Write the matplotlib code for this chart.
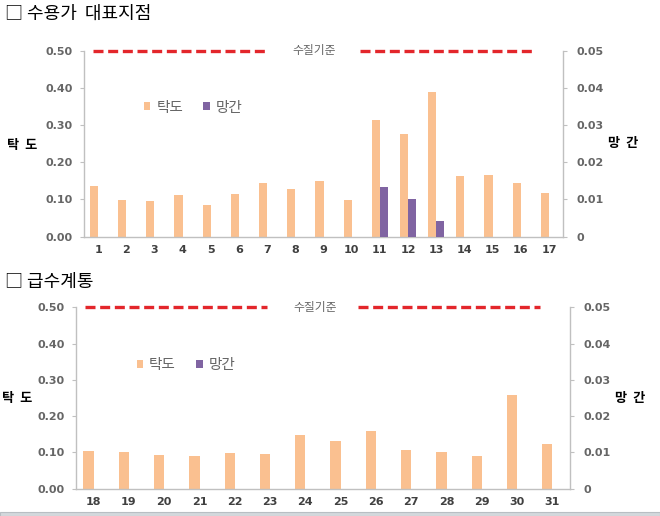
import matplotlib
matplotlib.use("Agg")
import matplotlib.pyplot as plt
from matplotlib.patches import Rectangle
import numpy as np

plt.rcParams['font.family'] = ['Noto Sans CJK KR', 'DejaVu Sans']

# data
top_sites = [str(i) for i in range(1, 18)]
top_turb = [0.136, 0.098, 0.097, 0.113, 0.084, 0.116, 0.145, 0.128, 0.150,
            0.099, 0.313, 0.277, 0.388, 0.164, 0.166, 0.144, 0.118]
top_mn = [0, 0, 0, 0, 0, 0, 0, 0, 0, 0, 0.0134, 0.0100, 0.0042, 0, 0, 0, 0]

bot_sites = [str(i) for i in range(18, 32)]
bot_turb = [0.105, 0.102, 0.094, 0.090, 0.099, 0.097, 0.148, 0.132, 0.160,
            0.107, 0.101, 0.090, 0.259, 0.124]
bot_mn = [0] * 14

standard = 0.5
left_ticks = [0.0, 0.1, 0.2, 0.3, 0.4, 0.5]
right_ticks = [0, 0.01, 0.02, 0.03, 0.04, 0.05]

ORANGE = '#FAC090'
PURPLE = '#8064A2'
GRID = '#C0C0C0'
TXT = '#666666'
RED = '#E3262B'

fig = plt.figure(figsize=(6.6, 5.16), dpi=100)


def panel(rect, sites, turb, mn, gap, leg_xy, txt_x):
    ax = fig.add_axes(rect)
    ax2 = ax.twinx()
    x = np.arange(len(sites))
    w = 0.29
    ax.bar(x - w / 2, turb, w, color=ORANGE, label='탁도', zorder=2)
    ax2.bar(x + w / 2, mn, w, color=PURPLE, label='망간', zorder=2)
    ax.set_xlim(-0.5, len(sites) - 0.5)
    ax.set_ylim(0, 0.5)
    ax2.set_ylim(0, 0.05)
    ax.set_yticks(left_ticks)
    ax.set_yticklabels(['%.2f' % v for v in left_ticks])
    ax2.set_yticks(right_ticks)
    ax2.set_yticklabels(['0' if v == 0 else '%.2f' % v for v in right_ticks])
    ax.set_xticks(x)
    ax.set_xticklabels(sites)
    for a in (ax, ax2):
        a.spines['top'].set_visible(False)
        for s in ('left', 'right', 'bottom'):
            a.spines[s].set_color(GRID)
            a.spines[s].set_linewidth(1.0)
    ax.spines['right'].set_visible(False)
    ax2.spines['left'].set_visible(False)
    ax2.spines['bottom'].set_visible(False)
    ax.tick_params(axis='x', length=0, pad=6, labelsize=8, labelcolor='#404040')
    ax.tick_params(axis='y', length=3, color=GRID, pad=5, labelsize=8, labelcolor=TXT)
    ax2.tick_params(axis='y', length=3, color=GRID, pad=7, labelsize=8, labelcolor=TXT)
    for lab in ax.get_xticklabels() + ax.get_yticklabels() + ax2.get_yticklabels():
        lab.set_family('DejaVu Sans')
        lab.set_fontweight('bold')

    # water quality standard line with label in its gap
    ax.axhline(standard, xmin=gap[0], xmax=gap[1], color=RED, lw=2.4,
               ls=(0, (3, 1.4)), clip_on=False, zorder=3)
    ax.axhline(standard, xmin=gap[2], xmax=gap[3], color=RED, lw=2.4,
               ls=(0, (3, 1.4)), clip_on=False, zorder=3)
    ax.text(txt_x, standard, '수질기준', transform=ax.get_yaxis_transform(),
            ha='center', va='center', fontsize=8.5, color=TXT)

    h1, l1 = ax.get_legend_handles_labels()
    h2, l2 = ax2.get_legend_handles_labels()
    leg = ax.legend(h1 + h2, l1 + l2, ncol=2, loc='center left',
                    bbox_to_anchor=leg_xy, frameon=False, fontsize=10.5,
                    handlelength=0.45, handleheight=0.45, handletextpad=0.4,
                    columnspacing=1.4, borderpad=0, borderaxespad=0)
    for t in leg.get_texts():
        t.set_color(TXT)
    return ax


panel([0.1273, 0.5413, 0.7258, 0.3605], top_sites, top_turb, top_mn,
      (0.019, 0.382, 0.576, 0.9415), (0.125, 0.694), 0.481)
panel([0.1152, 0.0529, 0.7485, 0.3516], bot_sites, bot_turb, bot_mn,
      (0.018, 0.387, 0.571, 0.939), (0.123, 0.682), 0.484)

# section titles
fig.text(5 / 660, 1 - 14 / 516, '□ 수용가  대표지점', fontsize=13,
         ha='left', va='center')
fig.text(5 / 660, 1 - 282 / 516, '□ 급수계통', fontsize=13,
         ha='left', va='center')

# axis titles
fig.text(22 / 660, 1 - 145 / 516, '탁  도', fontsize=9.5, fontweight='bold',
         ha='center', va='center')
fig.text(623 / 660, 1 - 143 / 516, '망  간', fontsize=9.5, fontweight='bold',
         ha='center', va='center')
fig.text(17 / 660, 1 - 398 / 516, '탁  도', fontsize=9.5, fontweight='bold',
         ha='center', va='center')
fig.text(630 / 660, 1 - 398 / 516, '망  간', fontsize=9.5, fontweight='bold',
         ha='center', va='center')

# grey strip at the bottom edge
fig.patches.append(Rectangle((0, 0), 1, 4.5 / 516, transform=fig.transFigure,
                             facecolor='#D3D8DC', edgecolor='#B8BEC3', lw=0.8))

fig.savefig('out.png', dpi=100)
